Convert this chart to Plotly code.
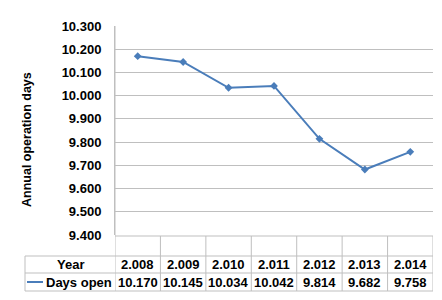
import plotly.graph_objects as go

years = [2008, 2009, 2010, 2011, 2012, 2013, 2014]
days_open = [10170, 10145, 10034, 10042, 9814, 9682, 9758]
series_name = "Days open"
y_title = "Annual operation days"
y_ticks = [9400, 9500, 9600, 9700, 9800, 9900, 10000, 10100, 10200, 10300]

W, H = 442, 300
L, R, T, B = 115, 9, 26, 65
PW, PH = W - L - R, H - T - B
BLUE = "#4A7DBA"
GRID = "#BFBFBF"
FONT = "Liberation Sans, Arial, sans-serif"


def fmt(v):
    s = f"{v:,}"
    return s.replace(",", ".")


def xp(px):
    return (px - L) / PW


def yp(py):
    return (H - B - py) / PH


fig = go.Figure()
fig.add_trace(go.Scatter(
    x=list(range(len(years))), y=days_open, mode="lines+markers",
    line=dict(color=BLUE, width=2),
    marker=dict(symbol="diamond", size=6, color=BLUE),
    name=series_name, showlegend=False, cliponaxis=False,
))

shapes = []
line_style = dict(color=GRID, width=1)
row_top, row_mid1, row_mid2, row_bot = 236, 256, 273, 291
table_left = 25
table_right = W - R
shapes.append(dict(type="line", xref="paper", yref="paper", x0=xp(L), x1=xp(table_right),
                   y0=yp(row_top), y1=yp(row_top), line=line_style))
for ry in (row_mid1, row_mid2, row_bot):
    shapes.append(dict(type="line", xref="paper", yref="paper", x0=xp(table_left), x1=xp(table_right),
                       y0=yp(ry), y1=yp(ry), line=line_style))
shapes.append(dict(type="line", xref="paper", yref="paper", x0=xp(table_left), x1=xp(table_left),
                   y0=yp(row_mid1), y1=yp(row_bot), line=line_style))
for i in range(len(years) + 1):
    shapes.append(dict(type="line", xref="x", yref="paper", x0=i - 0.5, x1=i - 0.5,
                       y0=yp(row_top) if i > 0 else 1, y1=yp(row_bot), line=line_style))

annotations = []
tfont = dict(family=FONT, size=13, color="#000000")
annotations.append(dict(text="<b>Year</b>", xref="paper", yref="paper", x=xp((table_left + L) / 2),
                        y=yp((row_mid1 + row_mid2) / 2), showarrow=False, font=tfont,
                        xanchor="center", yanchor="middle"))
annotations.append(dict(text=f"<b>{series_name}</b>", xref="paper", yref="paper", x=xp(44),
                        y=yp((row_mid2 + row_bot) / 2), showarrow=False, font=tfont,
                        xanchor="left", yanchor="middle"))
for i, (yr, v) in enumerate(zip(years, days_open)):
    annotations.append(dict(text=f"<b>{fmt(yr)}</b>", xref="x", yref="paper", x=i,
                            y=yp((row_mid1 + row_mid2) / 2), showarrow=False, font=tfont,
                            xanchor="center", yanchor="middle"))
    annotations.append(dict(text=f"<b>{fmt(v)}</b>", xref="x", yref="paper", x=i,
                            y=yp((row_mid2 + row_bot) / 2), showarrow=False, font=tfont,
                            xanchor="center", yanchor="middle"))
annotations.append(dict(text=f"<b>{y_title}</b>", xref="paper", yref="paper", x=xp(27),
                        y=yp(140), showarrow=False, font=dict(family=FONT, size=12.5, color="#000000"),
                        textangle=-90, xanchor="center", yanchor="middle"))

ly = yp((row_mid2 + row_bot) / 2)
shapes.append(dict(type="line", xref="paper", yref="paper", x0=xp(27), x1=xp(43), y0=ly, y1=ly,
                   line=dict(color=BLUE, width=2)))
fig.add_trace(go.Scatter(x=[xp(35)], y=[ly], xaxis="x2", yaxis="y2", mode="markers",
                         marker=dict(symbol="diamond", size=5, color=BLUE),
                         showlegend=False, cliponaxis=False, hoverinfo="skip"))

fig.update_layout(
    width=W, height=H, margin=dict(l=L, r=R, t=T, b=B),
    paper_bgcolor="white", plot_bgcolor="white",
    separators=",.",
    showlegend=False,
    shapes=shapes, annotations=annotations,
    xaxis=dict(range=[-0.5, len(years) - 0.5], showticklabels=False, showgrid=False,
               zeroline=False, showline=False, ticks=""),
    yaxis=dict(range=[9400, 10300], tickvals=y_ticks, ticktext=[f"<b>{fmt(v)}</b>" for v in y_ticks],
               showgrid=True, gridcolor=GRID, gridwidth=1, zeroline=False,
               showline=True, linecolor=GRID, linewidth=1, ticks="",
               tickfont=dict(family=FONT, size=13, color="#000000"), ticklabelstandoff=10),
    xaxis2=dict(range=[0, 1], overlaying="x", visible=False, anchor="y2"),
    yaxis2=dict(range=[0, 1], overlaying="y", visible=False, anchor="x2"),
)

fig.write_html("out.html")
